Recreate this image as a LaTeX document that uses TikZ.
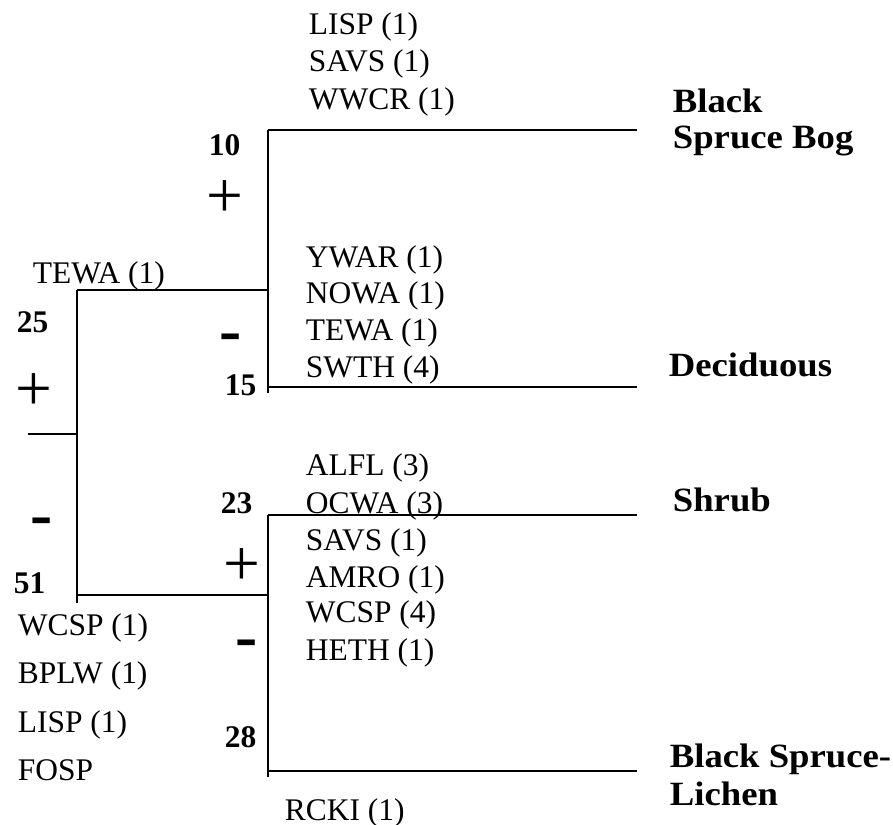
\documentclass[tikz,border=0pt]{standalone}
\usepackage{fontspec}
\setmainfont{Liberation Serif}
\newfontfamily\groupfont[FakeStretch=1.08]{Liberation Serif}

\tikzset{every picture/.style={line width=1.3pt}}
\tikzset{
  taxon/.style={anchor=base west, inner sep=0pt, font=\fontsize{23.6}{28}\selectfont},
  count/.style={anchor=base west, inner sep=0pt, font=\fontsize{23.6}{28}\selectfont\bfseries},
  plussign/.style={anchor=center, inner sep=0pt, font=\fontsize{49}{49}\selectfont},
  minussign/.style={anchor=base, inner sep=0pt, font=\fontsize{50}{50}\selectfont\bfseries},
  habitat/.style={anchor=base west, inner sep=0pt, font=\fontsize{25.5}{30}\groupfont\bfseries}
}

\begin{document}
\begin{tikzpicture}[x=0.75pt,y=0.75pt,yscale=-1,xscale=1]
\useasboundingbox (0,0) rectangle (893,825);

%Junctions
\coordinate (stub) at (28,434);
\coordinate (root) at (77,434);
\coordinate (j25) at (77,290);
\coordinate (j51) at (77,595);
\coordinate (j51e) at (77,603);
\coordinate (j10) at (268,130);
\coordinate (j10m) at (268,290);
\coordinate (j15) at (268,387);
\coordinate (j15e) at (268,393);
\coordinate (j23) at (268,515);
\coordinate (j23m) at (268,595);
\coordinate (j28) at (268,771);
\coordinate (j28e) at (268,777);
%Leaf ends
\coordinate (bog) at (637,130);
\coordinate (dec) at (637,387);
\coordinate (shrub) at (637,515);
\coordinate (lichen) at (637,771);

%Straight Lines
\draw (stub) -- (root);
\draw (j25) -- (j51e);
\draw (j25) -- (j10m);
\draw (j51) -- (j23m);
%Straight Lines
\draw (j10) -- (j15e);
\draw (j10) -- (bog);
\draw (j15) -- (dec);
%Straight Lines
\draw (j23) -- (j28e);
\draw (j23) -- (shrub);
\draw (j28) -- (lichen);

% Counts
\node[count] (n10) at (208,155) {10};
\node[count] (n25) at (16,332) {25};
\node[count] (n15) at (224,395) {15};
\node[count] (n23) at (220,513) {23};
\node[count] (n51) at (13,593) {51};
\node[count] (n28) at (224,747) {28};

% Signs
\node[plussign] (p10) at (225,199) {+};
\node[plussign] (p25) at (33.5,392.5) {+};
\node[plussign] (p23) at (241.5,567.5) {+};
\node[minussign] (m15) at (231,352) {-};
\node[minussign] (m51) at (41.5,536) {-};
\node[minussign] (m28) at (247,658) {-};

% Text Node: upper left
\node[taxon] (tewa-a) at (32,283) {TEWA (1)};
% Text Node: bog list
\node[taxon] (lisp-a) at (308,34) {LISP (1)};
\node[taxon] (savs-a) at (308,71) {SAVS (1)};
\node[taxon] (wwcr) at (308,109) {WWCR (1)};
% Text Node: deciduous list
\node[taxon] (ywar) at (305,267) {YWAR (1)};
\node[taxon] (nowa) at (305,303) {NOWA (1)};
\node[taxon] (tewa-b) at (305,340) {TEWA (1)};
\node[taxon] (swth) at (305,377) {SWTH (4)};
% Text Node: shrub list
\node[taxon] (alfl) at (305,475) {ALFL (3)};
\node[taxon] (ocwa) at (305,513) {OCWA (3)};
\node[taxon] (savs-b) at (305,550) {SAVS (1)};
\node[taxon] (amro) at (305,587) {AMRO (1)};
\node[taxon] (wcsp-b) at (305,622) {WCSP (4)};
\node[taxon] (heth) at (305,660) {HETH (1)};
% Text Node: lower left list
\node[taxon] (wcsp-a) at (17,635) {WCSP (1)};
\node[taxon] (bplw) at (17,683) {BPLW (1)};
\node[taxon] (lisp-b) at (17,732) {LISP (1)};
\node[taxon] (fosp) at (17,780) {FOSP};
% Text Node: lichen
\node[taxon] (rcki) at (284,820) {RCKI (1)};

% Habitats
\node[habitat] (bog1) at (672,112) {Black};
\node[habitat] (bog2) at (672,148) {Spruce Bog};
\node[habitat] (decid) at (668,376) {Deciduous};
\node[habitat] (shrubl) at (672,511) {Shrub};
\node[habitat] (lich1) at (669,767) {Black Spruce-};
\node[habitat] (lich2) at (669,805) {Lichen};

\end{tikzpicture}
\end{document}
